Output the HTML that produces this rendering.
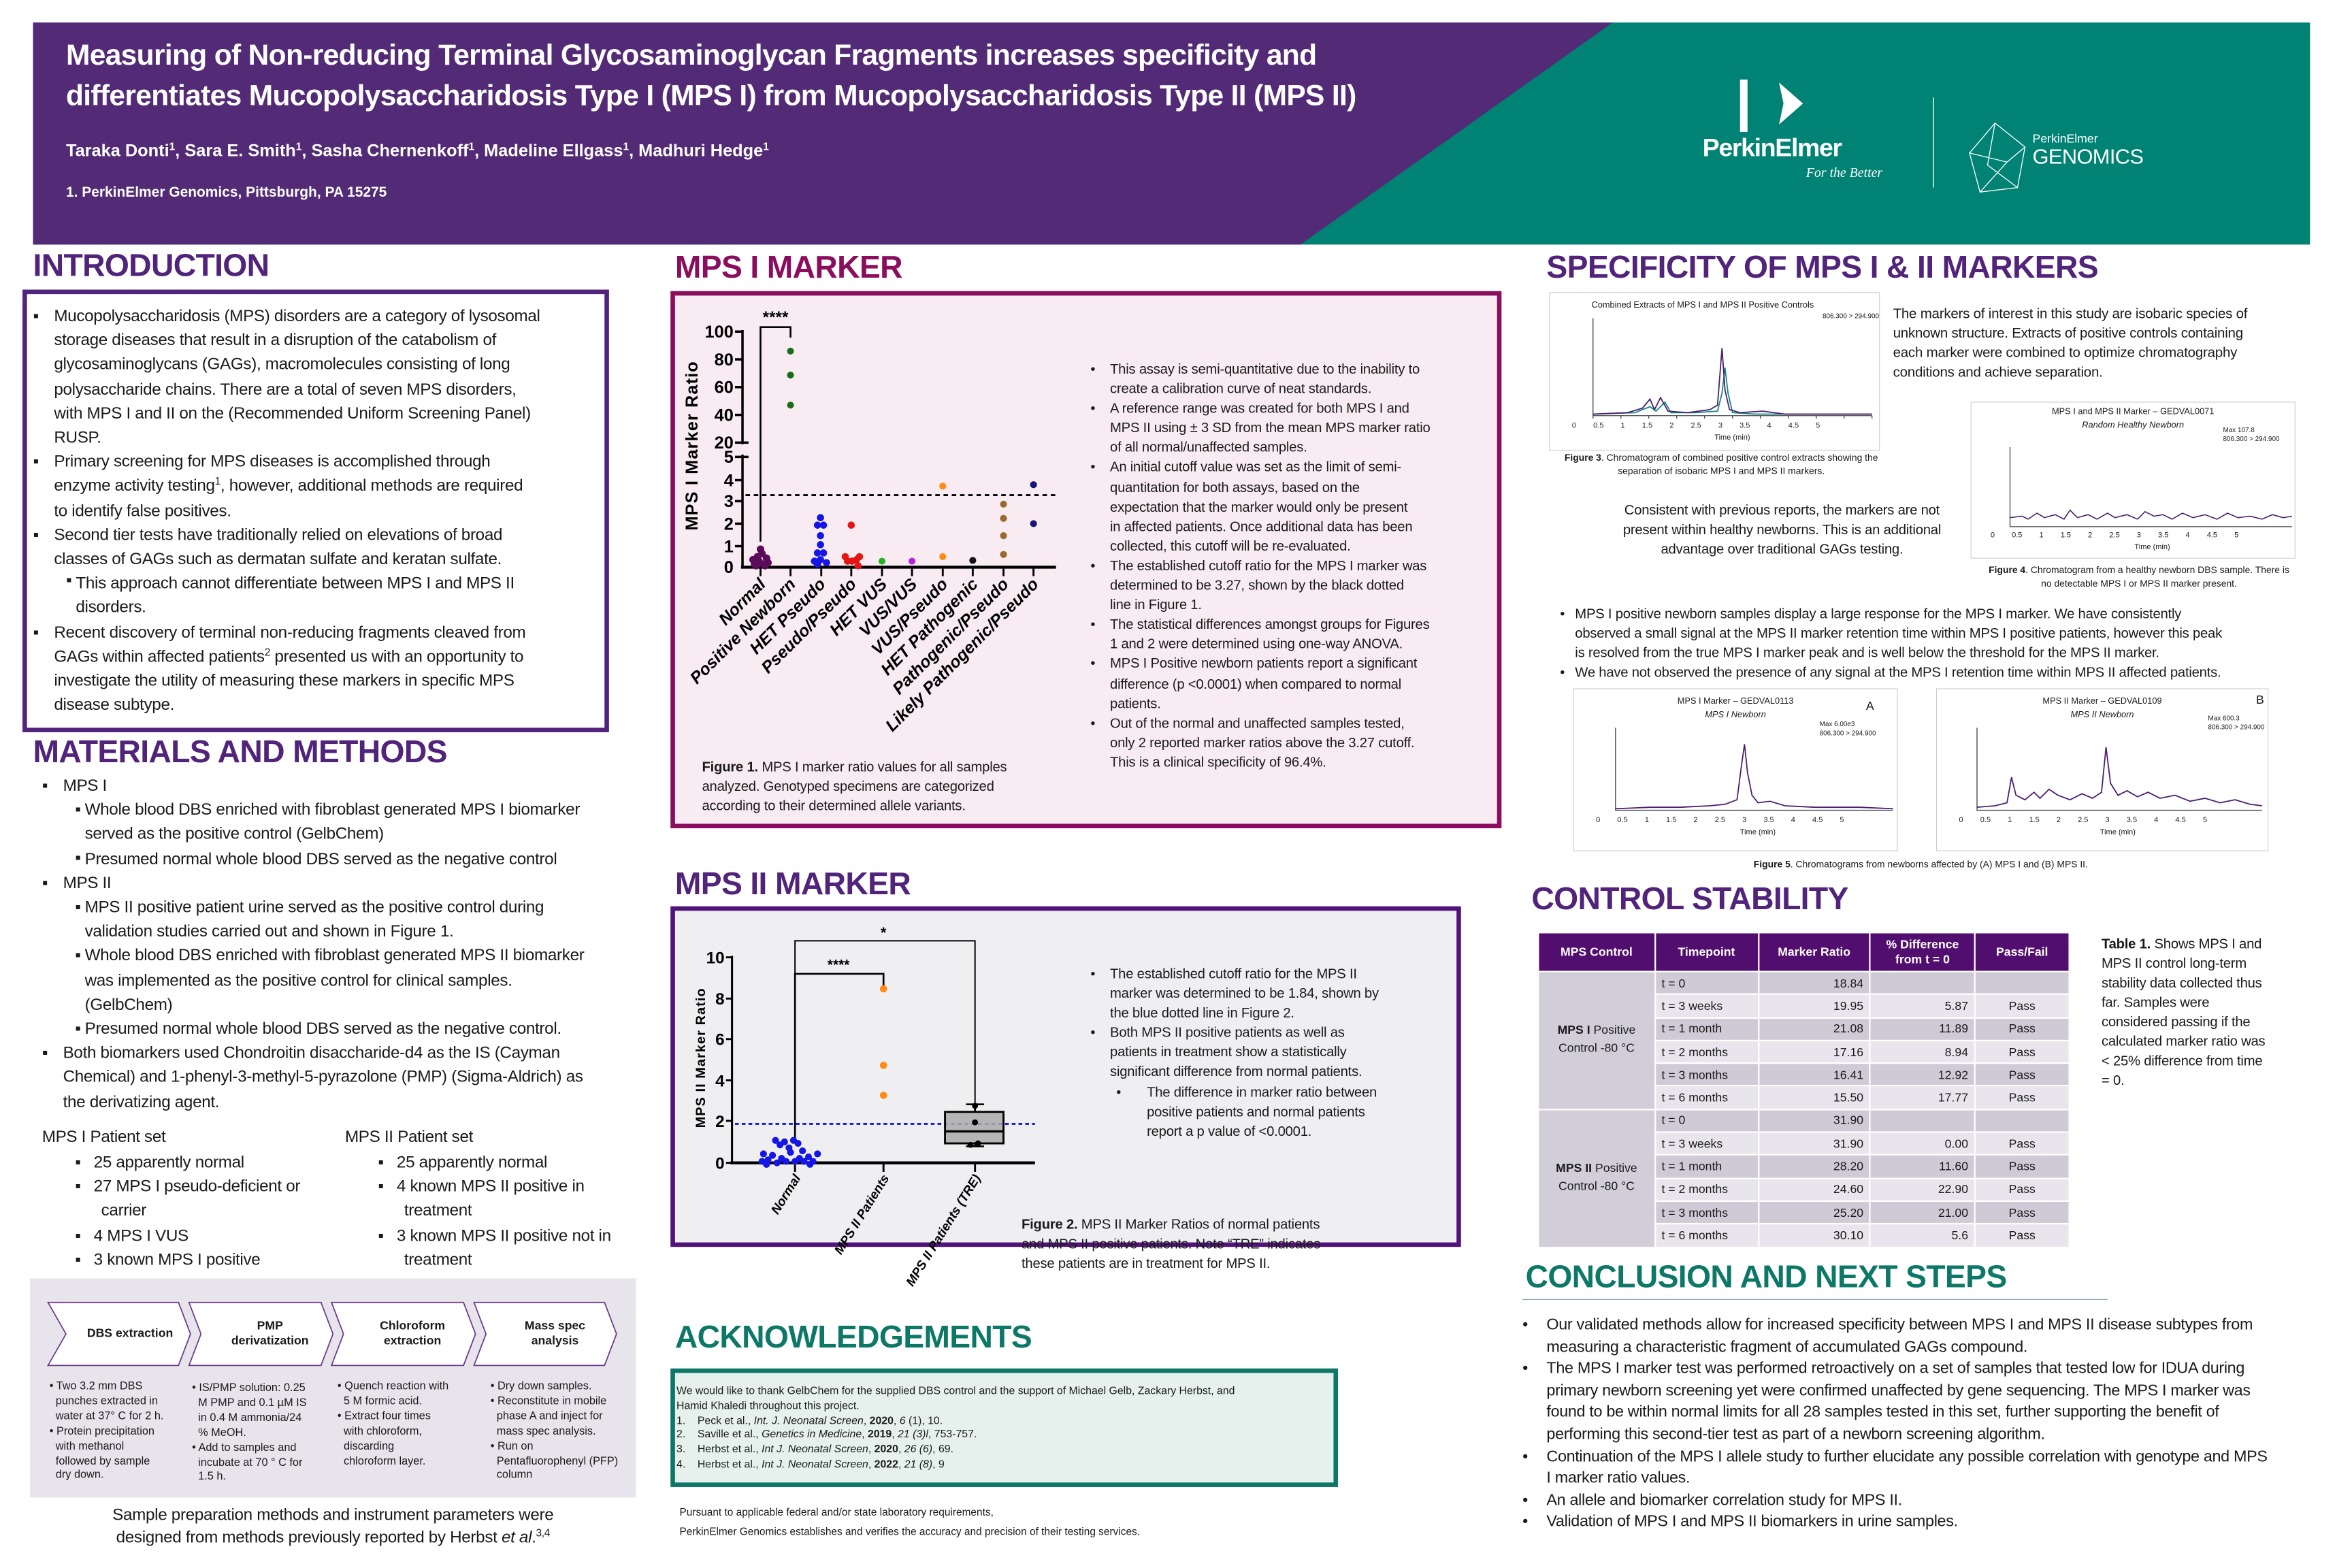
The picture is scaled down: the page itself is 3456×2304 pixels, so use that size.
<!DOCTYPE html>
<html><head><meta charset="utf-8"><style>
*{margin:0;padding:0;box-sizing:border-box}
html,body{width:3456px;height:2304px;overflow:hidden;background:#fff}
#w{position:absolute;left:0;top:0;width:1568px;height:1045px;transform-origin:0 0;transform:scale(2.2041,2.2048);font-family:"Liberation Sans",sans-serif;color:#1a1a1a}
sup{line-height:0;font-size:7px;vertical-align:4px}
.a{position:absolute;white-space:nowrap}
.h{position:absolute;font-weight:bold;font-size:21px;letter-spacing:-0.3px;white-space:nowrap}
.t{position:absolute;font-size:11px;line-height:16.2px;white-space:nowrap;letter-spacing:-0.15px}
.s{position:absolute;font-size:9.2px;line-height:13.1px;white-space:nowrap;letter-spacing:-0.1px}
.x{position:absolute;font-size:7.4px;line-height:10px;white-space:nowrap}
table{position:absolute;border-collapse:collapse;font-size:8px}
td{height:15.3px;padding:0 4px;border:1px solid #fff}
</style></head><body><div id="w">
<svg class="a" style="left:0;top:0" width="1568" height="1045" viewBox="0 0 1568 1045">
<rect x="22" y="15" width="1518" height="148" fill="#008274"/>
<polygon points="22,15 1075,15 867,163 22,163" fill="#522a75"/>
<rect x="1160" y="53" width="5" height="35" fill="#fff"/>
<polygon points="1186,55 1202,69 1186,83 1189,69" fill="#fff"/>
<line x1="1289" y1="65" x2="1289" y2="125" stroke="#cfe" stroke-width="0.7"/>
<g fill="none" stroke="#fff" stroke-width="0.6"><polygon points="1330,82 1350,98 1345,125 1320,128 1313,102"/><polyline points="1330,82 1325,110 1345,125"/><polyline points="1313,102 1338,108 1350,98"/><polyline points="1320,128 1338,108"/></g>
<rect x="16.5" y="194.5" width="388" height="292" fill="#fff" stroke="#51237a" stroke-width="3"/>
<rect x="20" y="852" width="404" height="146" fill="#e8e4ec"/>
<g fill="#fff" stroke="#6b3a8c" stroke-width="0.8">
<polygon points="32,868 119,868 127,889 119,910 32,910 44,889"/>
<polygon points="126,868 214,868 222,889 214,910 126,910 134,889"/>
<polygon points="221,868 309,868 317,889 309,910 221,910 229,889"/>
<polygon points="316,868 403,868 411,889 403,910 316,910 324,889"/>
</g>
<rect x="448.5" y="195.5" width="551" height="355" fill="#f8ecf2" stroke="#8a0d5e" stroke-width="3"/>
<g stroke="#000" stroke-width="1.6" fill="none">
<line x1="495" y1="220" x2="495" y2="296"/><line x1="495" y1="303" x2="495" y2="378"/>
<line x1="494" y1="378" x2="704" y2="378" stroke-width="2"/>
<line x1="490" y1="221" x2="495" y2="221"/><line x1="490" y1="239.5" x2="495" y2="239.5"/><line x1="490" y1="258" x2="495" y2="258"/><line x1="490" y1="276.5" x2="495" y2="276.5"/><line x1="490" y1="295" x2="499" y2="295"/><line x1="490" y1="304.5" x2="499" y2="304.5"/><line x1="490" y1="320" x2="495" y2="320"/><line x1="490" y1="334" x2="495" y2="334"/><line x1="490" y1="349" x2="495" y2="349"/><line x1="490" y1="364" x2="495" y2="364"/>
<path d="M507 361V218H527V225" stroke-width="1.2"/>
<line x1="497" y1="330" x2="704" y2="330" stroke-dasharray="3,2.5" stroke-width="1.3"/>
<path d="M507 378v6M527 378v6M547.5 378v6M567.5 378v6M588 378v6M608 378v6M628.5 378v6M648.5 378v6M669 378v6M689 378v6" stroke-width="1.3"/>
</g>
<g font-family="Liberation Sans" font-weight="bold" font-size="11.5" text-anchor="end" fill="#000">
<text x="489" y="225">100</text><text x="489" y="243.5">80</text><text x="489" y="262">60</text><text x="489" y="280.5">40</text><text x="489" y="299">20</text><text x="489" y="308.5">5</text><text x="489" y="324">4</text><text x="489" y="338">3</text><text x="489" y="353">2</text><text x="489" y="368">1</text><text x="489" y="382">0</text>
</g>
<text x="517" y="215" font-size="11" font-weight="bold" text-anchor="middle" font-family="Liberation Sans">****</text>
<text transform="translate(465,297) rotate(-90)" font-size="11.5" font-weight="bold" text-anchor="middle" font-family="Liberation Sans" letter-spacing="0.5">MPS I Marker Ratio</text>
<g font-family="Liberation Sans" font-weight="bold" font-style="italic" font-size="11.2" text-anchor="end">
<text transform="translate(511,390) rotate(-45)">Normal</text>
<text transform="translate(531,390) rotate(-45)">Positive Newborn</text>
<text transform="translate(551,390) rotate(-45)">HET Pseudo</text>
<text transform="translate(571.5,390) rotate(-45)">Pseudo/Pseudo</text>
<text transform="translate(592,390) rotate(-45)">HET VUS</text>
<text transform="translate(612,390) rotate(-45)">VUS/VUS</text>
<text transform="translate(632.5,390) rotate(-45)">VUS/Pseudo</text>
<text transform="translate(652.5,390) rotate(-45)">HET Pathogenic</text>
<text transform="translate(673,390) rotate(-45)">Pathogenic/Pseudo</text>
<text transform="translate(693,390) rotate(-45)">Likely Pathogenic/Pseudo</text>
</g>
<g fill="#5c0a5a"><circle cx="503" cy="376" r="2.5"/><circle cx="506" cy="374" r="2.5"/><circle cx="509" cy="376" r="2.5"/><circle cx="512" cy="375" r="2.5"/><circle cx="505" cy="371" r="2.5"/><circle cx="508" cy="369" r="2.5"/><circle cx="507" cy="366" r="2.5"/><circle cx="502" cy="373" r="2.5"/><circle cx="511" cy="372" r="2.5"/><circle cx="504" cy="377" r="2.5"/><circle cx="510" cy="377" r="2.5"/></g>
<g fill="#1a6b1a"><circle cx="527" cy="234" r="2.3"/><circle cx="527" cy="250" r="2.3"/><circle cx="527" cy="270" r="2.3"/></g>
<g fill="#1515e6"><circle cx="547" cy="345" r="2.4"/><circle cx="545" cy="350" r="2.4"/><circle cx="549" cy="350" r="2.4"/><circle cx="547" cy="357" r="2.4"/><circle cx="547" cy="363" r="2.4"/><circle cx="545" cy="368.5" r="2.4"/><circle cx="549" cy="368.5" r="2.4"/><circle cx="543" cy="374" r="2.4"/><circle cx="547" cy="373" r="2.4"/><circle cx="551" cy="375" r="2.4"/><circle cx="545" cy="376" r="2.4"/></g>
<g fill="#e61515"><circle cx="567.5" cy="350" r="2.4"/><circle cx="563.5" cy="371" r="2.4"/><circle cx="565" cy="374" r="2.4"/><circle cx="568" cy="374" r="2.4"/><circle cx="571" cy="373" r="2.4"/><circle cx="573" cy="371" r="2.4"/><circle cx="572" cy="377" r="2.4"/></g>
<circle cx="588" cy="374" r="2.3" fill="#22b422"/><circle cx="608" cy="374" r="2.3" fill="#b422dd"/>
<g fill="#ff8a14"><circle cx="628.5" cy="324" r="2.3"/><circle cx="628.5" cy="371" r="2.3"/></g>
<circle cx="648.5" cy="373.5" r="2.3" fill="#111"/>
<g fill="#9a6a2a"><circle cx="669" cy="336" r="2.3"/><circle cx="669" cy="345.5" r="2.3"/><circle cx="669" cy="357" r="2.3"/><circle cx="669" cy="369.5" r="2.3"/></g>
<g fill="#15157a"><circle cx="689" cy="323" r="2.3"/><circle cx="689" cy="349" r="2.3"/></g>
<rect x="448.5" y="605.5" width="524" height="224" fill="#efeef1" stroke="#51137a" stroke-width="3"/>
<g stroke="#000" fill="none">
<line x1="488" y1="637" x2="488" y2="776" stroke-width="1.4"/>
<line x1="487" y1="775" x2="690" y2="775" stroke-width="2"/>
<path d="M484 638h4M484 665.5h4M484 692.5h4M484 720h4M484 747h4M484 775h4" stroke-width="1.3"/>
<path d="M530 775v6M589 775v6M650 775v6" stroke-width="1.3"/>
<path d="M530 761V649H589V658" stroke-width="1.2"/>
<path d="M530 660V627H650V740" stroke-width="0.9"/>
<line x1="490" y1="749" x2="690" y2="749" stroke="#1515e6" stroke-width="1.3" stroke-dasharray="2.5,2"/>
<rect x="630" y="741" width="39" height="21" fill="#aaa" fill-opacity="0.85" stroke-width="1.3"/>
<line x1="630" y1="754" x2="669" y2="754" stroke-width="1.5"/>
<path d="M650 741v-5M644 736h12M650 762v2M644 764h12" stroke-width="1.2"/>
</g>
<g font-family="Liberation Sans" font-weight="bold" font-size="11" text-anchor="end"><text x="483" y="642">10</text><text x="483" y="669.5">8</text><text x="483" y="696.5">6</text><text x="483" y="724">4</text><text x="483" y="751">2</text><text x="483" y="779">0</text></g>
<text transform="translate(470,705) rotate(-90)" font-size="9" font-weight="bold" text-anchor="middle" font-family="Liberation Sans" letter-spacing="0.5">MPS II Marker Ratio</text>
<text x="559" y="646" font-size="9.5" font-weight="bold" text-anchor="middle" font-family="Liberation Sans">****</text>
<text x="589" y="625" font-size="10" font-weight="bold" text-anchor="middle" font-family="Liberation Sans">*</text>
<g font-family="Liberation Sans" font-weight="bold" font-style="italic" font-size="8.5" text-anchor="end">
<text transform="translate(534,785) rotate(-58)">Normal</text>
<text transform="translate(593,785) rotate(-58)">MPS II Patients</text>
<text transform="translate(654,785) rotate(-58)">MPS II Patients (TRE)</text></g>
<g fill="#1515e6"><circle cx="509" cy="769" r="2.3"/><circle cx="512" cy="773" r="2.3"/><circle cx="515" cy="770" r="2.3"/><circle cx="518" cy="775" r="2.3"/><circle cx="521" cy="772" r="2.3"/><circle cx="524" cy="774" r="2.3"/><circle cx="527" cy="768" r="2.3"/><circle cx="530" cy="774" r="2.3"/><circle cx="533" cy="772" r="2.3"/><circle cx="536" cy="774" r="2.3"/><circle cx="539" cy="771" r="2.3"/><circle cx="542" cy="774" r="2.3"/><circle cx="545" cy="769" r="2.3"/><circle cx="517" cy="760" r="2.3"/><circle cx="520" cy="763" r="2.3"/><circle cx="523" cy="761" r="2.3"/><circle cx="526" cy="765" r="2.3"/><circle cx="529" cy="760" r="2.3"/><circle cx="532" cy="762" r="2.3"/><circle cx="535" cy="767" r="2.3"/><circle cx="511" cy="776" r="2.3"/><circle cx="540" cy="776" r="2.3"/><circle cx="508" cy="774" r="2.3"/></g>
<g fill="#ff8a14"><circle cx="589" cy="659" r="2.4"/><circle cx="589" cy="710" r="2.4"/><circle cx="589" cy="730" r="2.4"/></g>
<g fill="#000"><circle cx="650" cy="737" r="2"/><circle cx="650" cy="748" r="2"/><circle cx="647" cy="763" r="2"/><circle cx="652" cy="762" r="2"/></g>
<rect x="448.5" y="913.5" width="442" height="76" fill="#e6f1ee" stroke="#0e7868" stroke-width="3"/>
<line x1="1015" y1="866" x2="1405" y2="866" stroke="#9ab" stroke-width="0.6"/>
<rect x="1033" y="195" width="220" height="105" fill="#fff" stroke="#ccc" stroke-width="0.5"/>
<g stroke="#444" stroke-width="0.6" fill="none"><path d="M1062 212V277H1248"/><path d="M1062 277v2M1080.6 277v2M1099.2 277v2M1117.8 277v2M1136.4 277v2M1155 277v2M1173.6 277v2M1192.2 277v2M1210.8 277v2M1229.4 277v2M1248 277v2"/></g>
<polyline fill="none" stroke="#0e8a80" stroke-width="0.8" points="1062,276 1090,275 1100,271 1104,274 1110,268 1114,275 1130,275 1145,274 1148,262 1150,245 1152,262 1155,275 1170,276 1200,276 1248,276"/>
<polyline fill="none" stroke="#4a1a70" stroke-width="0.8" points="1062,276 1085,275 1095,272 1100,266 1103,273 1107,265 1112,274 1125,275 1140,273 1145,270 1148,232 1150,260 1153,273 1160,275 1175,274 1190,276 1220,276 1248,276"/>
<rect x="1314" y="268" width="216" height="104" fill="#fff" stroke="#ccc" stroke-width="0.5"/>
<g stroke="#444" stroke-width="0.6" fill="none"><path d="M1340 298V351H1528"/></g>
<polyline fill="none" stroke="#4a1a70" stroke-width="0.7" points="1340,345 1348,344 1352,346 1358,342 1363,345 1370,343 1376,346 1380,340 1385,345 1392,343 1398,346 1405,342 1410,345 1418,343 1425,346 1430,341 1436,344 1442,343 1448,346 1455,342 1462,345 1470,343 1478,346 1485,342 1492,345 1500,344 1508,346 1515,343 1522,345 1528,344"/>
<rect x="1049" y="459" width="216" height="108" fill="#fff" stroke="#ccc" stroke-width="0.5"/>
<g stroke="#444" stroke-width="0.6" fill="none"><path d="M1077 485V540H1262"/></g>
<polyline fill="none" stroke="#4a1a70" stroke-width="0.8" points="1077,539 1100,538 1120,538 1140,537 1150,536 1158,533 1161,510 1163,496 1165,515 1168,530 1172,535 1180,534 1190,537 1210,538 1240,538 1262,539"/>
<rect x="1291" y="459" width="221" height="108" fill="#fff" stroke="#ccc" stroke-width="0.5"/>
<g stroke="#444" stroke-width="0.6" fill="none"><path d="M1318 485V540H1508"/></g>
<polyline fill="none" stroke="#4a1a70" stroke-width="0.8" points="1318,538 1330,537 1338,535 1341,518 1344,530 1350,533 1356,528 1360,532 1366,526 1372,530 1380,533 1388,529 1395,532 1401,528 1404,498 1407,522 1412,530 1418,527 1425,531 1432,528 1440,532 1450,530 1460,534 1470,532 1480,535 1490,533 1500,536 1508,537"/>
</svg>

<div class="a" style="left:44px;top:25px;font-size:19.3px;font-weight:bold;color:#fff;line-height:26.5px;letter-spacing:-0.3px">Measuring of Non-reducing Terminal Glycosaminoglycan Fragments increases specificity and<br>differentiates Mucopolysaccharidosis Type I (MPS I) from Mucopolysaccharidosis Type II (MPS II)</div>
<div class="a" style="left:44px;top:95px;font-size:11.5px;font-weight:bold;color:#fff">Taraka Donti<sup>1</sup>, Sara E. Smith<sup>1</sup>, Sasha Chernenkoff<sup>1</sup>, Madeline Ellgass<sup>1</sup>, Madhuri Hedge<sup>1</sup></div>
<div class="a" style="left:44px;top:123px;font-size:9.5px;font-weight:bold;color:#fff">1. PerkinElmer Genomics, Pittsburgh, PA 15275</div>
<div class="a" style="left:1135px;top:89px;font-size:17px;font-weight:bold;color:#fff;letter-spacing:-0.6px">PerkinElmer</div>
<div class="a" style="left:1204px;top:110px;font-size:9px;font-style:italic;font-family:'Liberation Serif',serif;color:#fff">For the Better</div>
<div class="a" style="left:1355px;top:88px;font-size:8px;color:#fff">PerkinElmer</div>
<div class="a" style="left:1355px;top:96px;font-size:14px;color:#fff;letter-spacing:-0.3px">GENOMICS</div>

<div class="h" style="left:22px;top:166px;color:#51237a">INTRODUCTION</div>
<div class="h" style="left:22px;top:490px;color:#51237a">MATERIALS AND METHODS</div>
<div class="h" style="left:450px;top:167px;color:#8a0d5e">MPS I MARKER</div>
<div class="h" style="left:450px;top:578px;color:#51237a">MPS II MARKER</div>
<div class="h" style="left:450px;top:880px;color:#0e7868">ACKNOWLEDGEMENTS</div>
<div class="h" style="left:1031px;top:167px;color:#51237a">SPECIFICITY OF MPS I &amp; II MARKERS</div>
<div class="h" style="left:1021px;top:588px;color:#51237a">CONTROL STABILITY</div>
<div class="h" style="left:1017px;top:840px;color:#0e7868">CONCLUSION AND NEXT STEPS</div>

<div class="t" style="left:22px;top:203px">▪<br><br><br><br><br><br>▪<br><br><br>▪<br><br><br><br>▪</div>
<div class="t" style="left:44px;top:379px">▪</div>
<div class="t" style="left:36px;top:203px">Mucopolysaccharidosis (MPS) disorders are a category of lysosomal<br>storage diseases that result in a disruption of the catabolism of<br>glycosaminoglycans (GAGs), macromolecules consisting of long<br>polysaccharide chains. There are a total of seven MPS disorders,<br>with MPS I and II on the (Recommended Uniform Screening Panel)<br>RUSP.<br>Primary screening for MPS diseases is accomplished through<br>enzyme activity testing<sup>1</sup>, however, additional methods are required<br>to identify false positives.<br>Second tier tests have traditionally relied on elevations of broad<br>classes of GAGs such as dermatan sulfate and keratan sulfate.<br>&nbsp;&nbsp;&nbsp;&nbsp;&nbsp;This approach cannot differentiate between MPS I and MPS II<br>&nbsp;&nbsp;&nbsp;&nbsp;&nbsp;disorders.<br>Recent discovery of terminal non-reducing fragments cleaved from<br>GAGs within affected patients<sup>2</sup> presented us with an opportunity to<br>investigate the utility of measuring these markers in specific MPS<br>disease subtype.</div>

<div class="t" style="left:28px;top:516px">▪<br><br><br><br>▪<br><br><br><br><br><br><br>▪</div>
<div class="t" style="left:50px;top:532px">▪<br><br>▪<br><br>▪<br><br>▪<br><br><br>▪</div>
<div class="t" style="left:42px;top:516px">MPS I<br>&nbsp;&nbsp;&nbsp;&nbsp;&nbsp;Whole blood DBS enriched with fibroblast generated MPS I biomarker<br>&nbsp;&nbsp;&nbsp;&nbsp;&nbsp;served as the positive control (GelbChem)<br>&nbsp;&nbsp;&nbsp;&nbsp;&nbsp;Presumed normal whole blood DBS served as the negative control<br>MPS II<br>&nbsp;&nbsp;&nbsp;&nbsp;&nbsp;MPS II positive patient urine served as the positive control during<br>&nbsp;&nbsp;&nbsp;&nbsp;&nbsp;validation studies carried out and shown in Figure 1.<br>&nbsp;&nbsp;&nbsp;&nbsp;&nbsp;Whole blood DBS enriched with fibroblast generated MPS II biomarker<br>&nbsp;&nbsp;&nbsp;&nbsp;&nbsp;was implemented as the positive control for clinical samples.<br>&nbsp;&nbsp;&nbsp;&nbsp;&nbsp;(GelbChem)<br>&nbsp;&nbsp;&nbsp;&nbsp;&nbsp;Presumed normal whole blood DBS served as the negative control.<br>Both biomarkers used Chondroitin disaccharide-d4 as the IS (Cayman<br>Chemical) and 1-phenyl-3-methyl-5-pyrazolone (PMP) (Sigma-Aldrich) as<br>the derivatizing agent.</div>
<div class="t" style="left:28px;top:750px">MPS I Patient set</div>
<div class="t" style="left:230px;top:750px">MPS II Patient set</div>
<div class="t" style="left:50px;top:767px">▪&nbsp;&nbsp;&nbsp;25 apparently normal<br>▪&nbsp;&nbsp;&nbsp;27 MPS I pseudo-deficient or<br>&nbsp;&nbsp;&nbsp;&nbsp;&nbsp;&nbsp;carrier<br>▪&nbsp;&nbsp;&nbsp;4 MPS I VUS<br>▪&nbsp;&nbsp;&nbsp;3 known MPS I positive</div>
<div class="t" style="left:252px;top:767px">▪&nbsp;&nbsp;&nbsp;25 apparently normal<br>▪&nbsp;&nbsp;&nbsp;4 known MPS II positive in<br>&nbsp;&nbsp;&nbsp;&nbsp;&nbsp;&nbsp;treatment<br>▪&nbsp;&nbsp;&nbsp;3 known MPS II positive not in<br>&nbsp;&nbsp;&nbsp;&nbsp;&nbsp;&nbsp;treatment</div>

<div class="x" style="left:58px;top:884px;font-size:8px;font-weight:bold">DBS extraction</div>
<div class="x" style="left:145px;top:879px;font-size:8px;font-weight:bold;text-align:center;width:70px">PMP<br>derivatization</div>
<div class="x" style="left:240px;top:879px;font-size:8px;font-weight:bold;text-align:center;width:70px">Chloroform<br>extraction</div>
<div class="x" style="left:335px;top:879px;font-size:8px;font-weight:bold;text-align:center;width:70px">Mass spec<br>analysis</div>
<div class="x" style="left:33px;top:919px;line-height:9.9px">• Two 3.2 mm DBS<br>&nbsp;&nbsp;punches extracted in<br>&nbsp;&nbsp;water at 37° C for 2 h.<br>• Protein precipitation<br>&nbsp;&nbsp;with methanol<br>&nbsp;&nbsp;followed by sample<br>&nbsp;&nbsp;dry down.</div>
<div class="x" style="left:128px;top:920px;line-height:9.9px">• IS/PMP solution: 0.25<br>&nbsp;&nbsp;M PMP and 0.1 µM IS<br>&nbsp;&nbsp;in 0.4 M ammonia/24<br>&nbsp;&nbsp;% MeOH.<br>• Add to samples and<br>&nbsp;&nbsp;incubate at 70 ° C for<br>&nbsp;&nbsp;1.5 h.</div>
<div class="x" style="left:225px;top:919px;line-height:9.9px">• Quench reaction with<br>&nbsp;&nbsp;5 M formic acid.<br>• Extract four times<br>&nbsp;&nbsp;with chloroform,<br>&nbsp;&nbsp;discarding<br>&nbsp;&nbsp;chloroform layer.</div>
<div class="x" style="left:327px;top:919px;line-height:9.9px">• Dry down samples.<br>• Reconstitute in mobile<br>&nbsp;&nbsp;phase A and inject for<br>&nbsp;&nbsp;mass spec analysis.<br>• Run on<br>&nbsp;&nbsp;Pentafluorophenyl (PFP)<br>&nbsp;&nbsp;column</div>
<div class="t" style="left:20px;top:1003px;width:404px;text-align:center;line-height:15px">Sample preparation methods and instrument parameters were<br>designed from methods previously reported by Herbst <i>et al</i>.<sup>3,4</sup></div>

<div class="s" style="left:727px;top:240px">•<br><br>•<br><br><br>•<br><br><br><br><br>•<br><br><br>•<br><br>•<br><br><br>•</div>
<div class="s" style="left:740px;top:240px">This assay is semi-quantitative due to the inability to<br>create a calibration curve of neat standards.<br>A reference range was created for both MPS I and<br>MPS II using ± 3 SD from the mean MPS marker ratio<br>of all normal/unaffected samples.<br>An initial cutoff value was set as the limit of semi-<br>quantitation for both assays, based on the<br>expectation that the marker would only be present<br>in affected patients. Once additional data has been<br>collected, this cutoff will be re-evaluated.<br>The established cutoff ratio for the MPS I marker was<br>determined to be 3.27, shown by the black dotted<br>line in Figure 1.<br>The statistical differences amongst groups for Figures<br>1 and 2 were determined using one-way ANOVA.<br>MPS I Positive newborn patients report a significant<br>difference (p &lt;0.0001) when compared to normal<br>patients.<br>Out of the normal and unaffected samples tested,<br>only 2 reported marker ratios above the 3.27 cutoff.<br>This is a clinical specificity of 96.4%.</div>
<div class="s" style="left:468px;top:505px"><b>Figure 1.</b> MPS I marker ratio values for all samples<br>analyzed. Genotyped specimens are categorized<br>according to their determined allele variants.</div>

<div class="s" style="left:727px;top:643px">•<br><br><br>•<br><br><br>&nbsp;&nbsp;&nbsp;&nbsp;&nbsp;&nbsp;&nbsp;•</div>
<div class="s" style="left:740px;top:643px">The established cutoff ratio for the MPS II<br>marker was determined to be 1.84, shown by<br>the blue dotted line in Figure 2.<br>Both MPS II positive patients as well as<br>patients in treatment show a statistically<br>significant difference from normal patients.<br>&nbsp;&nbsp;&nbsp;&nbsp;&nbsp;&nbsp;&nbsp;&nbsp;&nbsp;&nbsp;The difference in marker ratio between<br>&nbsp;&nbsp;&nbsp;&nbsp;&nbsp;&nbsp;&nbsp;&nbsp;&nbsp;&nbsp;positive patients and normal patients<br>&nbsp;&nbsp;&nbsp;&nbsp;&nbsp;&nbsp;&nbsp;&nbsp;&nbsp;&nbsp;report a p value of &lt;0.0001.</div>
<div class="s" style="left:681px;top:810px"><b>Figure 2.</b> MPS II Marker Ratios of normal patients<br>and MPS II positive patients. Note “TRE” indicates<br>these patients are in treatment for MPS II.</div>

<div class="x" style="left:451px;top:922px;line-height:9.8px;font-size:7.2px">We would like to thank GelbChem for the supplied DBS control and the support of Michael Gelb, Zackary Herbst, and<br>Hamid Khaledi throughout this project.<br>1.&nbsp;&nbsp;&nbsp;&nbsp;Peck et al., <i>Int. J. Neonatal Screen</i>, <b>2020</b>, <i>6</i> (1), 10.<br>2.&nbsp;&nbsp;&nbsp;&nbsp;Saville et al., <i>Genetics in Medicine</i>, <b>2019</b>, <i>21 (3)l</i>, 753-757.<br>3.&nbsp;&nbsp;&nbsp;&nbsp;Herbst et al., <i>Int J. Neonatal Screen</i>, <b>2020</b>, <i>26 (6)</i>, 69.<br>4.&nbsp;&nbsp;&nbsp;&nbsp;Herbst et al., <i>Int J. Neonatal Screen</i>, <b>2022</b>, <i>21 (8)</i>, 9</div>
<div class="x" style="left:453px;top:1002px;line-height:13px;font-size:7px">Pursuant to applicable federal and/or state laboratory requirements,<br>PerkinElmer Genomics establishes and verifies the accuracy and precision of their testing services.</div>

<div class="x" style="left:1061px;top:199px;font-size:5.8px">Combined Extracts of MPS I and MPS II Positive Controls</div>
<div class="x" style="left:1215px;top:206px;font-size:4.5px">806.300 &gt; 294.900</div>
<div class="x" style="left:1048px;top:279px;font-size:5px;word-spacing:10px">0 0.5 1 1.5 2 2.5 3 3.5 4 4.5 5</div>
<div class="x" style="left:1143px;top:287px;font-size:5px">Time (min)</div>
<div class="x" style="left:1035px;top:302px;font-size:6.3px;line-height:8.5px;text-align:center;width:225px"><b>Figure 3</b>. Chromatogram of combined positive control extracts showing the<br>separation of isobaric MPS I and MPS II markers.</div>
<div class="s" style="left:1262px;top:203px;font-size:9.3px;line-height:13.1px">The markers of interest in this study are isobaric species of<br>unknown structure. Extracts of positive controls containing<br>each marker were combined to optimize chromatography<br>conditions and achieve separation.</div>
<div class="s" style="left:1068px;top:334px;text-align:center;width:240px;line-height:13px">Consistent with previous reports, the markers are not<br>present within healthy newborns. This is an additional<br>advantage over traditional GAGs testing.</div>
<div class="x" style="left:1314px;top:271px;width:216px;text-align:center;font-size:5.8px;line-height:9px">MPS I and MPS II Marker – GEDVAL0071<br><i>Random Healthy Newborn</i></div>
<div class="x" style="left:1482px;top:284px;font-size:4.5px;line-height:5.5px">Max 107.8<br>806.300 &gt; 294.900</div>
<div class="x" style="left:1327px;top:352px;font-size:5px;word-spacing:10px">0 0.5 1 1.5 2 2.5 3 3.5 4 4.5 5</div>
<div class="x" style="left:1423px;top:360px;font-size:5px">Time (min)</div>
<div class="x" style="left:1316px;top:377px;font-size:6.3px;line-height:8.5px;text-align:center;width:220px"><b>Figure 4</b>. Chromatogram from a healthy newborn DBS sample. There is<br>no detectable MPS I or MPS II marker present.</div>
<div class="s" style="left:1040px;top:403px;line-height:13px">•<br><br><br>•</div>
<div class="s" style="left:1050px;top:403px;line-height:13px">MPS I positive newborn samples display a large response for the MPS I marker. We have consistently<br>observed a small signal at the MPS II marker retention time within MPS I positive patients, however this peak<br>is resolved from the true MPS I marker peak and is well below the threshold for the MPS II marker.<br>We have not observed the presence of any signal at the MPS I retention time within MPS II affected patients.</div>
<div class="x" style="left:1049px;top:464px;width:216px;text-align:center;font-size:5.8px;line-height:9px">MPS I Marker – GEDVAL0113<br><i>MPS I Newborn</i></div>
<div class="x" style="left:1244px;top:466px;font-size:8px">A</div>
<div class="x" style="left:1213px;top:480px;font-size:4.5px;line-height:5.5px">Max 6.00e3<br>806.300 &gt; 294.900</div>
<div class="x" style="left:1064px;top:542px;font-size:5px;word-spacing:10px">0 0.5 1 1.5 2 2.5 3 3.5 4 4.5 5</div>
<div class="x" style="left:1160px;top:550px;font-size:5px">Time (min)</div>
<div class="x" style="left:1291px;top:464px;width:221px;text-align:center;font-size:5.8px;line-height:9px">MPS II Marker – GEDVAL0109<br><i>MPS II Newborn</i></div>
<div class="x" style="left:1504px;top:462px;font-size:8px">B</div>
<div class="x" style="left:1472px;top:476px;font-size:4.5px;line-height:5.5px">Max 600.3<br>806.300 &gt; 294.900</div>
<div class="x" style="left:1306px;top:542px;font-size:5px;word-spacing:10px">0 0.5 1 1.5 2 2.5 3 3.5 4 4.5 5</div>
<div class="x" style="left:1400px;top:550px;font-size:5px">Time (min)</div>
<div class="x" style="left:1049px;top:572px;width:463px;text-align:center;font-size:6.3px"><b>Figure 5</b>. Chromatograms from newborns affected by (A) MPS I and (B) MPS II.</div>

<table style="left:1025px;top:621px;width:355px">
<tr style="background:#520e6e;color:#fff;font-weight:bold;text-align:center"><td style="width:78px;height:26px">MPS Control</td><td style="width:69px">Timepoint</td><td style="width:75px">Marker Ratio</td><td style="width:70px;line-height:10px">% Difference<br>from t = 0</td><td style="width:63px">Pass/Fail</td></tr>
<tr style="background:#cfcbd6"><td rowspan="6" style="background:#d1ced9;text-align:center;line-height:12px"><b>MPS I</b> Positive<br>Control -80 °C</td><td>t = 0</td><td style="text-align:right">18.84</td><td></td><td></td></tr>
<tr style="background:#e8e6ec"><td>t = 3 weeks</td><td style="text-align:right">19.95</td><td style="text-align:right">5.87</td><td style="text-align:center">Pass</td></tr>
<tr style="background:#cfcbd6"><td>t = 1 month</td><td style="text-align:right">21.08</td><td style="text-align:right">11.89</td><td style="text-align:center">Pass</td></tr>
<tr style="background:#e8e6ec"><td>t = 2 months</td><td style="text-align:right">17.16</td><td style="text-align:right">8.94</td><td style="text-align:center">Pass</td></tr>
<tr style="background:#cfcbd6"><td>t = 3 months</td><td style="text-align:right">16.41</td><td style="text-align:right">12.92</td><td style="text-align:center">Pass</td></tr>
<tr style="background:#e8e6ec"><td>t = 6 months</td><td style="text-align:right">15.50</td><td style="text-align:right">17.77</td><td style="text-align:center">Pass</td></tr>
<tr style="background:#cfcbd6"><td rowspan="6" style="background:#d1ced9;text-align:center;line-height:12px"><b>MPS II</b> Positive<br>Control -80 °C</td><td>t = 0</td><td style="text-align:right">31.90</td><td></td><td></td></tr>
<tr style="background:#e8e6ec"><td>t = 3 weeks</td><td style="text-align:right">31.90</td><td style="text-align:right">0.00</td><td style="text-align:center">Pass</td></tr>
<tr style="background:#cfcbd6"><td>t = 1 month</td><td style="text-align:right">28.20</td><td style="text-align:right">11.60</td><td style="text-align:center">Pass</td></tr>
<tr style="background:#e8e6ec"><td>t = 2 months</td><td style="text-align:right">24.60</td><td style="text-align:right">22.90</td><td style="text-align:center">Pass</td></tr>
<tr style="background:#cfcbd6"><td>t = 3 months</td><td style="text-align:right">25.20</td><td style="text-align:right">21.00</td><td style="text-align:center">Pass</td></tr>
<tr style="background:#e8e6ec"><td>t = 6 months</td><td style="text-align:right">30.10</td><td style="text-align:right">5.6</td><td style="text-align:center">Pass</td></tr>
</table>
<div class="s" style="left:1401px;top:623px;line-height:13px"><b>Table 1.</b> Shows MPS I and<br>MPS II control long-term<br>stability data collected thus<br>far. Samples were<br>considered passing if the<br>calculated marker ratio was<br>&lt; 25% difference from time<br>= 0.</div>

<div class="t" style="left:1015px;top:876px;line-height:14.6px;font-size:10.6px">•<br><br>•<br><br><br><br>•<br><br>•<br>•</div>
<div class="t" style="left:1031px;top:876px;line-height:14.6px;font-size:10.6px">Our validated methods allow for increased specificity between MPS I and MPS II disease subtypes from<br>measuring a characteristic fragment of accumulated GAGs compound.<br>The MPS I marker test was performed retroactively on a set of samples that tested low for IDUA during<br>primary newborn screening yet were confirmed unaffected by gene sequencing. The MPS I marker was<br>found to be within normal limits for all 28 samples tested in this set, further supporting the benefit of<br>performing this second-tier test as part of a newborn screening algorithm.<br>Continuation of the MPS I allele study to further elucidate any possible correlation with genotype and MPS<br>I marker ratio values.<br>An allele and biomarker correlation study for MPS II.<br>Validation of MPS I and MPS II biomarkers in urine samples.</div>
</div></body></html>
